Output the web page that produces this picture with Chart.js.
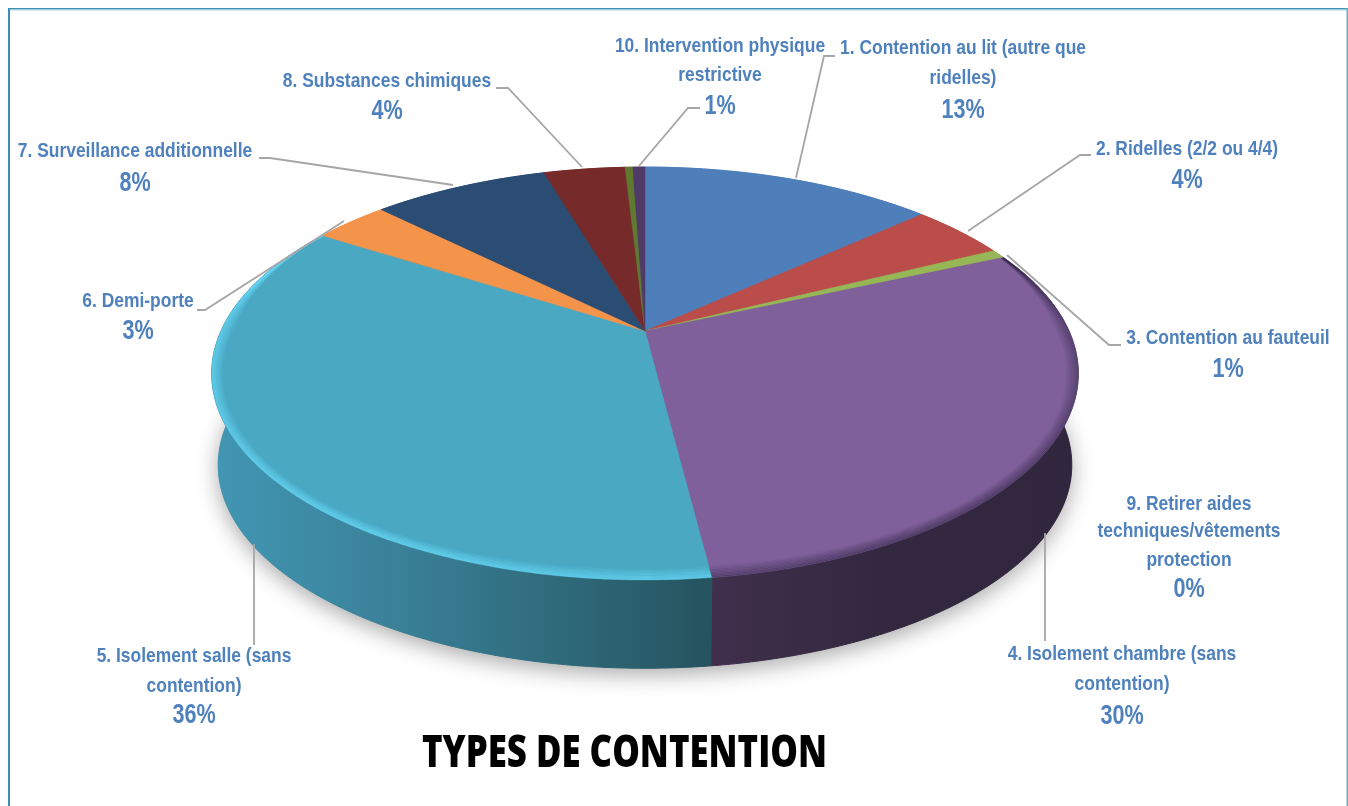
<!DOCTYPE html>
<html>
<head>
<meta charset="utf-8">
<title>Types de contention</title>
<script src="https://cdn.jsdelivr.net/npm/chart.js@4"></script>
<style>
  html, body { margin: 0; padding: 0; background: #fff; overflow: hidden; }
  canvas { display: block; }
</style>
</head>
<body>
<canvas id="pieChart" width="1348" height="806"></canvas>
<script>
var chartTitle = 'TYPES DE CONTENTION';
var categories = [
  ['1. Contention au lit (autre que', 'ridelles)'],
  ['2. Ridelles (2/2 ou 4/4)'],
  ['3. Contention au fauteuil'],
  ['4. Isolement chambre (sans', 'contention)'],
  ['5. Isolement salle (sans', 'contention)'],
  ['6. Demi-porte'],
  ['7. Surveillance additionnelle'],
  ['8. Substances chimiques'],
  ['9. Retirer aides', 'techniques/vêtements', 'protection'],
  ['10. Intervention physique', 'restrictive']
];
var values = [13.3, 4.4, 0.7, 29.6, 36, 3.4, 8, 3.7, 0.35, 0.55];
var colors = ['#4e7fba', '#ba4d49', '#97b655', '#7f609b', '#4aa8c3', '#f3944a', '#2b4d74', '#762b2a', '#5f7a30', '#4f3a68'];

// label layout: centre x, then the y of every line (last one is the percent)
var labelX = [963, 1187, 1228, 1122, 194, 138, 135, 387, 1189, 720];
var labelY = [
  [48, 78, 109], [149, 179], [338, 368], [654, 684, 715], [656, 686, 714],
  [301, 330], [151, 182], [81, 110], [504, 531, 560, 588], [46, 75, 105]
];
var leaders = [
  [[796, 178], [824, 56], [835, 56]],
  [[968, 231], [1080, 155], [1091, 155]],
  [[1007, 255], [1109, 345], [1121, 345]],
  [[1045, 533], [1045, 641]],
  [[254, 544], [254, 645]],
  [[344, 221], [205, 310], [197, 310]],
  [[453, 185], [270, 158], [259, 158]],
  [[582, 167], [508, 88], [496, 88]],
  null,
  [[639, 166], [688, 108], [700, 108]]
];

// perspective disc
var cx = 645, cy = 331, rx = 424, ry = 197.7, persp = 0.206;
var depth = 92, baseScale = 0.985;
var bevels = { 3: ['38,28,56', 0.36], 4: ['104,218,248', 0.62] };
var sideStops = {
  3: [[711, '#402f4d'], [880, '#33283f'], [1075, '#30263d']],
  4: [[218, '#4196b3'], [400, '#3a8097'], [560, '#2f6a7b'], [711, '#25535e']]
};

function project(theta, r, dy, s) {
  var u = Math.sin(theta) * r, v = -Math.cos(theta) * r;
  var w = 1 - persp * v;
  return [cx + s * rx * u / w, cy + dy + s * ry * v / w];
}

function sliceAngles(arc) {
  return [arc.startAngle + Math.PI / 2, arc.endAngle + Math.PI / 2];
}

function rimPoints(a0, a1, r, dy, s) {
  var pts = [], n = Math.max(2, Math.ceil((a1 - a0) / 0.008));
  for (var i = 0; i <= n; i++) {
    pts.push(project(a0 + (a1 - a0) * i / n, r, dy, s));
  }
  return pts;
}

function trace(ctx, pts) {
  pts.forEach(function(p, i) {
    if (i === 0) ctx.moveTo(p[0], p[1]);
    else ctx.lineTo(p[0], p[1]);
  });
}

function traceSlice(ctx, a) {
  trace(ctx, [[cx, cy]].concat(rimPoints(a[0], a[1], 1, 0, 1)));
  ctx.closePath();
}

function drawShadow(ctx) {
  ctx.save();
  ctx.shadowColor = 'rgba(0,0,0,0.34)';
  ctx.shadowBlur = 22;
  ctx.shadowOffsetY = 6;
  ctx.fillStyle = '#888';
  ctx.beginPath();
  trace(ctx, rimPoints(0, Math.PI * 2, 1, depth, baseScale));
  ctx.closePath();
  ctx.fill();
  ctx.restore();
}

function drawSides(ctx, arcs) {
  arcs.forEach(function(arc, i) {
    var a = sliceAngles(arc);
    var top = rimPoints(a[0], a[1], 1, 0, 1);
    var bottom = rimPoints(a[0], a[1], 1, depth, baseScale).reverse();
    var fill = colors[i];
    if (sideStops[i]) {
      fill = ctx.createLinearGradient(200, 0, 1090, 0);
      sideStops[i].forEach(function(st) {
        fill.addColorStop((st[0] - 200) / 890, st[1]);
      });
    }
    ctx.fillStyle = fill;
    ctx.strokeStyle = fill;
    ctx.lineWidth = 1;
    ctx.beginPath();
    trace(ctx, top.concat(bottom));
    ctx.closePath();
    ctx.fill();
    ctx.stroke();
  });
}

function drawTop(ctx, arcs) {
  arcs.forEach(function(arc, i) {
    ctx.fillStyle = colors[i];
    ctx.strokeStyle = colors[i];
    ctx.lineWidth = 0.5;
    ctx.beginPath();
    traceSlice(ctx, sliceAngles(arc));
    ctx.fill();
    ctx.stroke();
  });
}

function drawBevel(ctx, arcs) {
  var centerY = cy + 40, steps = 9;
  Object.keys(bevels).forEach(function(key) {
    var a = sliceAngles(arcs[key]);
    var n = Math.ceil((a[1] - a[0]) / 0.01);
    ctx.save();
    // keep the soft band inside its own slice
    ctx.beginPath();
    traceSlice(ctx, a);
    ctx.clip();
    for (var k = 0; k < steps; k++) {
      var f = k / (steps - 1);
      ctx.strokeStyle = 'rgba(' + bevels[key][0] + ',' + (bevels[key][1] * (1 - f) + 0.02) + ')';
      ctx.lineWidth = 1.8;
      ctx.beginPath();
      for (var j = 0; j <= n; j++) {
        var t = a[0] + (a[1] - a[0]) * j / n;
        var v = -Math.cos(t);
        var taper = Math.max(0, Math.min(1, (v + 0.5) / 0.45));
        var p = project(t, 1, 0, 1);
        var dx = cx - p[0], dy = centerY - p[1], len = Math.sqrt(dx * dx + dy * dy);
        var inset = 12 * taper * f;
        var x = p[0] + dx / len * inset, y = p[1] + dy / len * inset;
        if (j === 0) ctx.moveTo(x, y);
        else ctx.lineTo(x, y);
      }
      ctx.stroke();
    }
    ctx.restore();
  });
}

function drawFrame(ctx) {
  ctx.fillStyle = '#3d8fb8';
  ctx.fillRect(8, 8, 2, 798);
  ctx.fillRect(8, 8, 1340, 1.5);
  ctx.fillStyle = '#a9d2e2';
  ctx.fillRect(10, 9.5, 1338, 1);
  ctx.fillStyle = '#6fa9c4';
  ctx.fillRect(1346.5, 8, 1.5, 798);
}

function drawLeaders(ctx) {
  ctx.strokeStyle = '#a6a6a6';
  ctx.lineWidth = 1.8;
  leaders.forEach(function(path) {
    if (!path) return;
    ctx.beginPath();
    trace(ctx, path);
    ctx.stroke();
  });
}

// the source font is a narrow bold, so squeeze Liberation Sans to the same width
function narrowText(ctx, text, x, y, squeeze) {
  ctx.fillText(text, x, y, ctx.measureText(text).width * squeeze);
}

function drawLabels(ctx, total) {
  var family = '"Liberation Sans", sans-serif';
  ctx.fillStyle = '#4f81bd';
  ctx.textAlign = 'center';
  ctx.textBaseline = 'middle';
  categories.forEach(function(lines, i) {
    ctx.font = 'bold 21px ' + family;
    lines.forEach(function(line, j) {
      narrowText(ctx, line, labelX[i], labelY[i][j] + 0.5, 0.83);
    });
    ctx.font = 'bold 27px ' + family;
    narrowText(ctx, Math.round(values[i] / total * 100) + '%', labelX[i], labelY[i][lines.length] + 2, 0.8);
  });
}

function drawTitle(ctx) {
  ctx.font = '800 45px "Open Sans", sans-serif';
  ctx.fillStyle = '#000';
  ctx.textAlign = 'center';
  ctx.textBaseline = 'alphabetic';
  ctx.fillText(chartTitle, 624.5, 767, 405);
}

var pie3d = {
  id: 'pie3d',
  beforeDatasetsDraw: function(chart) {
    var ctx = chart.ctx;
    var arcs = chart.getDatasetMeta(0).data;
    var total = values.reduce(function(a, b) { return a + b; }, 0);
    ctx.save();
    drawFrame(ctx);
    drawShadow(ctx);
    drawSides(ctx, arcs);
    drawTop(ctx, arcs);
    drawBevel(ctx, arcs);
    drawLeaders(ctx);
    drawLabels(ctx, total);
    drawTitle(ctx);
    ctx.restore();
    return false;
  }
};

var ctx = document.getElementById('pieChart').getContext('2d');
var pieChart = new Chart(ctx, {
  type: 'pie',
  data: {
    labels: categories.map(function(c) { return c.join(' '); }),
    datasets: [{
      data: values,
      backgroundColor: colors
    }]
  },
  options: {
    responsive: false,
    animation: false,
    plugins: {
      legend: { display: false },
      tooltip: { enabled: false }
    }
  },
  plugins: [pie3d]
});
</script>
</body>
</html>
